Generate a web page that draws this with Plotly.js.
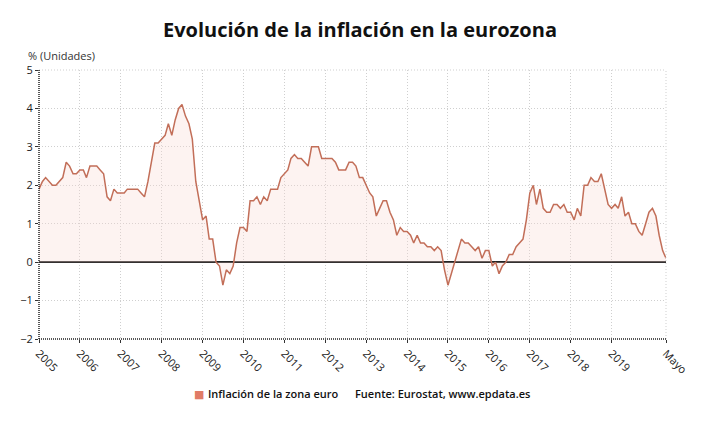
<!DOCTYPE html>
<html>
<head>
<meta charset="utf-8">
<script src="https://cdn.plot.ly/plotly-3.0.1.min.js"></script>
<style>
html,body{margin:0;padding:0;background:#fff;}
#chart{width:720px;height:423px;}
</style>
</head>
<body>
<div id="chart"></div>
<script>
// Monthly euro area inflation (%), January 2005 - May 2020
var v2005 = [1.9, 2.1, 2.2, 2.1, 2.0, 2.0, 2.1, 2.2, 2.6, 2.5, 2.3, 2.3];
var v2006 = [2.4, 2.4, 2.2, 2.5, 2.5, 2.5, 2.4, 2.3, 1.7, 1.6, 1.9, 1.8];
var v2007 = [1.8, 1.8, 1.9, 1.9, 1.9, 1.9, 1.8, 1.7, 2.1, 2.6, 3.1, 3.1];
var v2008 = [3.2, 3.3, 3.6, 3.3, 3.7, 4.0, 4.1, 3.8, 3.6, 3.2, 2.1, 1.6];
var v2009 = [1.1, 1.2, 0.6, 0.6, 0.0, -0.1, -0.6, -0.2, -0.3, -0.1, 0.5, 0.9];
var v2010 = [0.9, 0.8, 1.6, 1.6, 1.7, 1.5, 1.7, 1.6, 1.9, 1.9, 1.9, 2.2];
var v2011 = [2.3, 2.4, 2.7, 2.8, 2.7, 2.7, 2.6, 2.5, 3.0, 3.0, 3.0, 2.7];
var v2012 = [2.7, 2.7, 2.7, 2.6, 2.4, 2.4, 2.4, 2.6, 2.6, 2.5, 2.2, 2.2];
var v2013 = [2.0, 1.8, 1.7, 1.2, 1.4, 1.6, 1.6, 1.3, 1.1, 0.7, 0.9, 0.8];
var v2014 = [0.8, 0.7, 0.5, 0.7, 0.5, 0.5, 0.4, 0.4, 0.3, 0.4, 0.3, -0.2];
var v2015 = [-0.6, -0.3, 0.0, 0.3, 0.6, 0.5, 0.5, 0.4, 0.3, 0.4, 0.1, 0.3];
var v2016 = [0.3, -0.1, 0.0, -0.3, -0.1, 0.0, 0.2, 0.2, 0.4, 0.5, 0.6, 1.1];
var v2017 = [1.8, 2.0, 1.5, 1.9, 1.4, 1.3, 1.3, 1.5, 1.5, 1.4, 1.5, 1.3];
var v2018 = [1.3, 1.1, 1.4, 1.2, 2.0, 2.0, 2.2, 2.1, 2.1, 2.3, 1.9, 1.5];
var v2019 = [1.4, 1.5, 1.4, 1.7, 1.2, 1.3, 1.0, 1.0, 0.8, 0.7, 1.0, 1.3];
var v2020 = [1.4, 1.2, 0.7, 0.3, 0.1];

var startYear = 2005;
var yearly = [v2005, v2006, v2007, v2008, v2009, v2010, v2011, v2012, v2013,
              v2014, v2015, v2016, v2017, v2018, v2019, v2020];

var tickYears = ['2005','2006','2007','2008','2009','2010','2011','2012','2013',
                 '2014','2015','2016','2017','2018','2019'];
var lastLabel = 'Mayo';
var yTicks = [-2, -1, 0, 1, 2, 3, 4, 5];

var seriesName = 'Inflación de la zona euro';
var sourceText = 'Fuente: Eurostat, www.epdata.es';
var titleText = 'Evolución de la inflación en la eurozona';
var unitText = '% (Unidades)';

function pad(n){ return (n < 10 ? '0' : '') + n; }

var xs = [], ys = [];
yearly.forEach(function(arr, i){
  arr.forEach(function(v, m){
    xs.push((startYear + i) + '-' + pad(m + 1) + '-01');
    ys.push(v);
  });
});
var lastDate = xs[xs.length - 1];

var tickvals = tickYears.map(function(y){ return y + '-01-01'; }).concat([lastDate]);
var ticktext = tickYears.concat([lastLabel]);

var font = '"Open Sans", "DejaVu Sans", sans-serif';

var trace = {
  x: xs, y: ys, type: 'scatter', mode: 'lines',
  name: seriesName,
  line: {color: '#c26e58', width: 1.5},
  fill: 'tozeroy',
  fillcolor: 'rgba(250,218,210,0.32)',
  hoverinfo: 'x+y'
};

var layout = {
  width: 720, height: 423,
  paper_bgcolor: '#ffffff', plot_bgcolor: '#ffffff',
  margin: {l: 39, r: 54, t: 70, b: 84},
  showlegend: false,
  font: {family: font, color: '#333'},
  title: {
    text: '<b>' + titleText + '</b>',
    font: {family: font, size: 20, color: '#111'},
    x: 0.5, xref: 'container', xanchor: 'center',
    y: 1 - 30/423, yref: 'container', yanchor: 'middle'
  },
  xaxis: {
    type: 'date',
    range: [xs[0], lastDate],
    tickmode: 'array', tickvals: tickvals, ticktext: ticktext,
    tickangle: 45,
    tickfont: {family: font, size: 11, color: '#222'},
    showgrid: true, gridcolor: '#cfcfcf', griddash: '1px,2px', gridwidth: 1,
    ticks: 'outside', ticklen: 3, tickcolor: '#333',
    showline: false, zeroline: false, fixedrange: true
  },
  yaxis: {
    range: [-2, 5],
    tickmode: 'array', tickvals: yTicks,
    tickfont: {family: font, size: 11, color: '#222'},
    showgrid: true, gridcolor: '#cfcfcf', griddash: '1px,2px', gridwidth: 1,
    ticks: 'outside', ticklen: 3, tickcolor: '#333',
    zeroline: true, zerolinecolor: '#222', zerolinewidth: 1.5,
    showline: false, fixedrange: true
  },
  shapes: [
    {type: 'line', xref: 'paper', yref: 'paper', x0: 0, x1: 1, y0: 1, y1: 1,
     line: {color: '#cfcfcf', width: 1, dash: '1px,2px'}},
    {type: 'line', xref: 'paper', yref: 'paper', x0: 1, x1: 1, y0: 0, y1: 1,
     line: {color: '#cfcfcf', width: 1, dash: '1px,2px'}},
    {type: 'line', xref: 'paper', yref: 'paper', x0: 0, x1: 0, y0: 0, y1: 1,
     line: {color: '#222', width: 1.5, dash: '1px,1px'}},
    {type: 'line', xref: 'paper', yref: 'paper', x0: 0, x1: 1, y0: 0, y1: 0,
     line: {color: '#222', width: 1.5, dash: '1px,1px'}}
  ],
  annotations: [
    {text: unitText, xref: 'paper', yref: 'paper', x: (26 - 39)/627, y: 1, yshift: 15,
     xanchor: 'left', yanchor: 'middle', showarrow: false,
     font: {family: font, size: 11, color: '#333'}},
    {text: '■', xref: 'paper', yref: 'paper', x: (199 - 39)/627, y: 0, yshift: -54,
     xanchor: 'center', yanchor: 'middle', showarrow: false,
     font: {family: font, size: 11, color: '#e07b66'}},
    {text: seriesName, xref: 'paper', yref: 'paper', x: (206 - 39)/627, y: 0, yshift: -54,
     xanchor: 'left', yanchor: 'middle', showarrow: false,
     font: {family: font, size: 11, color: '#111', weight: 600}},
    {text: sourceText, xref: 'paper', yref: 'paper', x: (353 - 39)/627, y: 0, yshift: -54,
     xanchor: 'left', yanchor: 'middle', showarrow: false,
     font: {family: font, size: 11, color: '#111', weight: 600}}
  ]
};

Plotly.newPlot('chart', [trace], layout, {displayModeBar: false, staticPlot: true});
</script>
</body>
</html>
